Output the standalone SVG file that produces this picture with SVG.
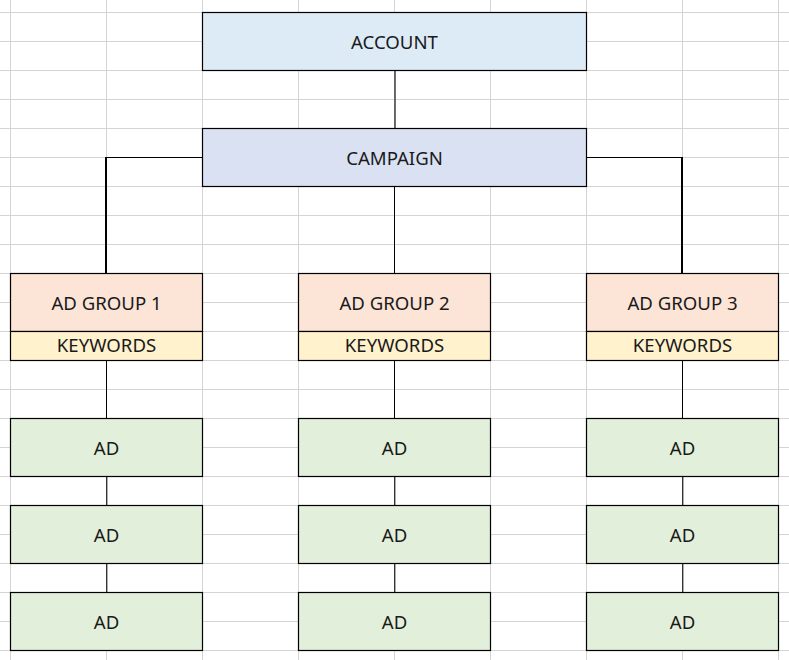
<svg xmlns="http://www.w3.org/2000/svg" width="789" height="660" viewBox="0 0 789 660">
  <defs>
    <style>
      .grid line { stroke: #d4d4d4; stroke-width: 1; }
      .box { stroke: #000; stroke-width: 1.2; }
      .account { fill: #ddebf7; }
      .campaign { fill: #d9e1f2; }
      .adgroup { fill: #fce4d6; }
      .keywords { fill: #fff2cc; }
      .ad { fill: #e2efda; }
      text { font-family: "Noto Sans", "Open Sans", "DejaVu Sans", sans-serif; font-size: 18.6px; fill: #1a1a1a; text-anchor: middle; }
      .conn line, .conn path { stroke: #000; fill: none; }
      .thin { stroke-width: 1; }
      .thick { stroke-width: 2; }
      .soft { stroke: #333 !important; stroke-width: 1.4; }
    </style>
  </defs>
  <rect width="789" height="660" fill="#ffffff"/>
  <g class="grid">
    <line x1="10.5" y1="0" x2="10.5" y2="660"/>
    <line x1="106.5" y1="0" x2="106.5" y2="660"/>
    <line x1="202.5" y1="0" x2="202.5" y2="660"/>
    <line x1="298.5" y1="0" x2="298.5" y2="660"/>
    <line x1="394.5" y1="0" x2="394.5" y2="660"/>
    <line x1="490.5" y1="0" x2="490.5" y2="660"/>
    <line x1="586.5" y1="0" x2="586.5" y2="660"/>
    <line x1="682.5" y1="0" x2="682.5" y2="660"/>
    <line x1="778.5" y1="0" x2="778.5" y2="660"/>
    <line x1="0" y1="12.5" x2="789" y2="12.5"/>
    <line x1="0" y1="41.5" x2="789" y2="41.5"/>
    <line x1="0" y1="70.5" x2="789" y2="70.5"/>
    <line x1="0" y1="99.5" x2="789" y2="99.5"/>
    <line x1="0" y1="128.5" x2="789" y2="128.5"/>
    <line x1="0" y1="157.5" x2="789" y2="157.5"/>
    <line x1="0" y1="186.5" x2="789" y2="186.5"/>
    <line x1="0" y1="215.5" x2="789" y2="215.5"/>
    <line x1="0" y1="244.5" x2="789" y2="244.5"/>
    <line x1="0" y1="273.5" x2="789" y2="273.5"/>
    <line x1="0" y1="302.5" x2="789" y2="302.5"/>
    <line x1="0" y1="331.5" x2="789" y2="331.5"/>
    <line x1="0" y1="360.5" x2="789" y2="360.5"/>
    <line x1="0" y1="389.5" x2="789" y2="389.5"/>
    <line x1="0" y1="418.5" x2="789" y2="418.5"/>
    <line x1="0" y1="447.5" x2="789" y2="447.5"/>
    <line x1="0" y1="476.5" x2="789" y2="476.5"/>
    <line x1="0" y1="505.5" x2="789" y2="505.5"/>
    <line x1="0" y1="534.5" x2="789" y2="534.5"/>
    <line x1="0" y1="563.5" x2="789" y2="563.5"/>
    <line x1="0" y1="592.5" x2="789" y2="592.5"/>
    <line x1="0" y1="621.5" x2="789" y2="621.5"/>
    <line x1="0" y1="650.5" x2="789" y2="650.5"/>
  </g>

  <g class="conn" id="connectors">
    <line class="thick soft" x1="395" y1="70.5" x2="395" y2="128.5"/>
    <path class="thin" d="M202.5 157.5 H106"/>
    <line class="thick" x1="106" y1="157" x2="106" y2="273.5"/>
    <path class="thin" d="M586.5 157.5 H682"/>
    <line class="thick" x1="682" y1="157" x2="682" y2="273.5"/>
    <line class="thin" x1="394.5" y1="186.5" x2="394.5" y2="273.5"/>
    <line class="thin" x1="106.5" y1="360.5" x2="106.5" y2="418.5"/>
    <line class="thin" x1="394.5" y1="360.5" x2="394.5" y2="418.5"/>
    <line class="thin" x1="682.5" y1="360.5" x2="682.5" y2="418.5"/>
    <line class="soft" x1="106.7" y1="476.5" x2="106.7" y2="505.5"/>
    <line class="soft" x1="106.7" y1="563.5" x2="106.7" y2="592.5"/>
    <line class="soft" x1="394.7" y1="476.5" x2="394.7" y2="505.5"/>
    <line class="soft" x1="394.7" y1="563.5" x2="394.7" y2="592.5"/>
    <line class="soft" x1="682.7" y1="476.5" x2="682.7" y2="505.5"/>
    <line class="soft" x1="682.7" y1="563.5" x2="682.7" y2="592.5"/>
  </g>

  <g id="account">
    <rect class="box account" x="202.5" y="12.5" width="384" height="58"/>
    <text x="394.5" y="49">ACCOUNT</text>
  </g>
  <g id="campaign">
    <rect class="box campaign" x="202.5" y="128.5" width="384" height="58"/>
    <text x="394.5" y="165">CAMPAIGN</text>
  </g>

  <g id="adgroup1">
    <rect class="box adgroup" x="10.5" y="273.5" width="192" height="58"/>
    <text x="106.5" y="310">AD GROUP 1</text>
  </g>
  <g id="keywords1">
    <rect class="box keywords" x="10.5" y="331.5" width="192" height="29"/>
    <text x="106.5" y="352">KEYWORDS</text>
  </g>
  <g id="adgroup2">
    <rect class="box adgroup" x="298.5" y="273.5" width="192" height="58"/>
    <text x="394.5" y="310">AD GROUP 2</text>
  </g>
  <g id="keywords2">
    <rect class="box keywords" x="298.5" y="331.5" width="192" height="29"/>
    <text x="394.5" y="352">KEYWORDS</text>
  </g>
  <g id="adgroup3">
    <rect class="box adgroup" x="586.5" y="273.5" width="192" height="58"/>
    <text x="682.5" y="310">AD GROUP 3</text>
  </g>
  <g id="keywords3">
    <rect class="box keywords" x="586.5" y="331.5" width="192" height="29"/>
    <text x="682.5" y="352">KEYWORDS</text>
  </g>

  <g id="ad1a"><rect class="box ad" x="10.5" y="418.5" width="192" height="58"/><text x="106.5" y="455">AD</text></g>
  <g id="ad1b"><rect class="box ad" x="10.5" y="505.5" width="192" height="58"/><text x="106.5" y="542">AD</text></g>
  <g id="ad1c"><rect class="box ad" x="10.5" y="592.5" width="192" height="58"/><text x="106.5" y="629">AD</text></g>

  <g id="ad2a"><rect class="box ad" x="298.5" y="418.5" width="192" height="58"/><text x="394.5" y="455">AD</text></g>
  <g id="ad2b"><rect class="box ad" x="298.5" y="505.5" width="192" height="58"/><text x="394.5" y="542">AD</text></g>
  <g id="ad2c"><rect class="box ad" x="298.5" y="592.5" width="192" height="58"/><text x="394.5" y="629">AD</text></g>

  <g id="ad3a"><rect class="box ad" x="586.5" y="418.5" width="192" height="58"/><text x="682.5" y="455">AD</text></g>
  <g id="ad3b"><rect class="box ad" x="586.5" y="505.5" width="192" height="58"/><text x="682.5" y="542">AD</text></g>
  <g id="ad3c"><rect class="box ad" x="586.5" y="592.5" width="192" height="58"/><text x="682.5" y="629">AD</text></g>
</svg>
